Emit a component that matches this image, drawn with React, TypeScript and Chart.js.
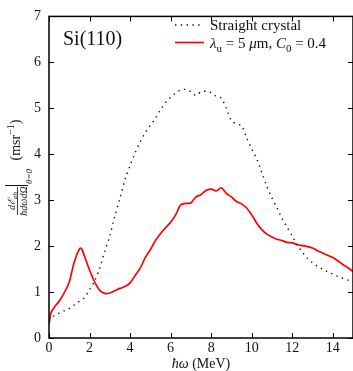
import React, { useEffect, useRef } from "react";
import { Chart, registerables } from "chart.js";

Chart.register(...registerables);

// ---- data ----
const straightX = [0, 0.25, 0.5, 0.75, 1.0, 1.25, 1.5, 1.75, 2.0, 2.25, 2.5, 2.75, 3.0, 3.25, 3.5, 3.75, 4.0, 4.25, 4.5, 4.75, 5.0, 5.25, 5.5, 5.75, 6.0, 6.25, 6.5, 6.75, 7.0, 7.25, 7.5, 7.75, 8.0, 8.25, 8.5, 8.75, 9.0, 9.25, 9.5, 9.75, 10.0, 10.25, 10.5, 10.75, 11.0, 11.25, 11.5, 11.75, 12.0, 12.25, 12.5, 12.75, 13.0, 13.25, 13.5, 13.75, 14.0, 14.25, 14.5, 14.75, 15.0];
const straightY = [0.38, 0.48, 0.54, 0.59, 0.64, 0.72, 0.8, 0.88, 1.05, 1.24, 1.52, 1.88, 2.22, 2.66, 3.04, 3.45, 3.75, 4.03, 4.27, 4.47, 4.63, 4.78, 4.97, 5.12, 5.24, 5.33, 5.4, 5.41, 5.36, 5.28, 5.36, 5.37, 5.34, 5.26, 5.22, 5.0, 4.73, 4.66, 4.62, 4.36, 4.12, 3.9, 3.6, 3.3, 3.05, 2.83, 2.6, 2.41, 2.22, 2.02, 1.87, 1.73, 1.64, 1.56, 1.5, 1.44, 1.39, 1.34, 1.3, 1.26, 1.23];

const undulatorX = [0, 0.1, 0.25, 0.5, 0.75, 1.0, 1.25, 1.5, 1.6, 1.75, 2.0, 2.25, 2.5, 2.75, 3.0, 3.25, 3.5, 3.75, 4.0, 4.25, 4.5, 4.75, 5.0, 5.25, 5.5, 5.75, 6.0, 6.25, 6.5, 6.75, 7.0, 7.25, 7.5, 7.75, 8.0, 8.25, 8.5, 8.75, 9.0, 9.25, 9.5, 9.75, 10.0, 10.25, 10.5, 10.75, 11.0, 11.25, 11.5, 11.75, 12.0, 12.25, 12.5, 12.75, 13.0, 13.25, 13.5, 13.75, 14.0, 14.25, 14.5, 14.75, 15.0];
const undulatorY = [0.3, 0.55, 0.66, 0.8, 0.98, 1.22, 1.66, 1.94, 1.95, 1.78, 1.48, 1.22, 1.04, 0.97, 0.98, 1.03, 1.08, 1.12, 1.2, 1.36, 1.52, 1.75, 1.92, 2.12, 2.27, 2.4, 2.52, 2.68, 2.9, 2.93, 2.94, 3.07, 3.12, 3.21, 3.24, 3.2, 3.27, 3.15, 3.07, 2.97, 2.92, 2.83, 2.68, 2.5, 2.36, 2.26, 2.2, 2.15, 2.12, 2.08, 2.07, 2.03, 2.01, 1.99, 1.96, 1.9, 1.85, 1.8, 1.75, 1.68, 1.6, 1.53, 1.45];

const xTickValues = [0, 2, 4, 6, 8, 10, 12, 14];
const yTickValues = [0, 1, 2, 3, 4, 5, 6, 7];
const seriesLabels = ["Straight crystal", "λu = 5 μm, C0 = 0.4"];
const panelLabel = "Si(110)";

const SERIF = '"Liberation Serif", "Times New Roman", serif';

type Part = { t: string; it?: boolean; sub?: boolean; sup?: boolean };

function drawRich(ctx: CanvasRenderingContext2D, parts: Part[], x: number, y: number, size: number, align: "left" | "center") {
  const fontFor = (p: Part) => `${p.it ? "italic " : ""}${p.sub || p.sup ? Math.round(size * 0.7) : size}px ${SERIF}`;
  let total = 0;
  for (const p of parts) {
    ctx.font = fontFor(p);
    total += ctx.measureText(p.t).width;
  }
  let cx = align === "center" ? x - total / 2 : x;
  ctx.textAlign = "left";
  ctx.textBaseline = "alphabetic";
  for (const p of parts) {
    ctx.font = fontFor(p);
    const dy = p.sub ? size * 0.28 : p.sup ? -size * 0.42 : 0;
    ctx.fillText(p.t, cx, y + dy);
    cx += ctx.measureText(p.t).width;
  }
  return total;
}

const decorPlugin = {
  id: "decor",
  afterDraw(chart: any) {
    const ctx: CanvasRenderingContext2D = chart.ctx;
    const { left, right, top, bottom } = chart.chartArea;
    const xs = chart.scales.x;
    const ys = chart.scales.y;
    ctx.save();
    ctx.strokeStyle = "#000";
    // inner ticks
    ctx.lineWidth = 1;
    const tl = 5;
    ctx.beginPath();
    for (const v of xTickValues) {
      const px = Math.round(xs.getPixelForValue(v)) + 0.5;
      ctx.moveTo(px, bottom);
      ctx.lineTo(px, bottom - tl);
      ctx.moveTo(px, top);
      ctx.lineTo(px, top + tl);
    }
    for (const v of yTickValues) {
      const py = Math.round(ys.getPixelForValue(v)) + 0.5;
      ctx.moveTo(left, py);
      ctx.lineTo(left + tl, py);
      ctx.moveTo(right, py);
      ctx.lineTo(right - tl, py);
    }
    ctx.stroke();
    // frame
    ctx.lineWidth = 1.5;
    ctx.strokeRect(left, top, right - left, bottom - top);

    ctx.fillStyle = "#111";
    // panel label
    ctx.font = `20px ${SERIF}`;
    ctx.textAlign = "left";
    ctx.textBaseline = "alphabetic";
    ctx.fillText(panelLabel, 63, 45);

    // legend
    const ds = chart.data.datasets;
    const sx0 = 175, sx1 = 204, tx = 210;
    const rows = [25, 42.5];
    ds.forEach((d: any, i: number) => {
      ctx.save();
      ctx.strokeStyle = d.borderColor;
      ctx.lineWidth = d.borderWidth;
      ctx.setLineDash(d.borderDash || []);
      ctx.beginPath();
      ctx.moveTo(sx0, rows[i]);
      ctx.lineTo(sx1, rows[i]);
      ctx.stroke();
      ctx.restore();
    });
    ctx.fillStyle = "#111";
    drawRich(ctx, [{ t: seriesLabels[0] }], tx, 30, 15, "left");
    drawRich(
      ctx,
      [
        { t: "λ", it: true },
        { t: "u", sub: true },
        { t: " = 5 " },
        { t: "μ", it: true },
        { t: "m, " },
        { t: "C", it: true },
        { t: "0", sub: true },
        { t: " = 0.4" },
      ],
      tx,
      47.5,
      15,
      "left"
    );

    // x title
    const cxTitle = (left + right) / 2;
    drawRich(ctx, [{ t: "ħω", it: true }, { t: " (MeV)" }], cxTitle, 368, 14, "center");

    // y title (rotated)
    ctx.save();
    ctx.rotate(-Math.PI / 2);
    // local (u, v) -> screen (v, -u)
    const fracC = -201;
    // numerator
    ctx.fillStyle = "#111";
    {
      const parts: Part[] = [{ t: "dℰ", it: true }, { t: "ph", it: true, sub: true }];
      drawRich(ctx, parts, fracC, 14.5, 10, "center");
    }
    ctx.strokeStyle = "#111";
    ctx.lineWidth = 0.8;
    ctx.beginPath();
    ctx.moveTo(-215, 17.5);
    ctx.lineTo(-187, 17.5);
    ctx.stroke();
    drawRich(ctx, [{ t: "ħdωdΩ", it: true }], fracC, 26.5, 10, "center");
    // evaluation bar
    ctx.lineWidth = 1;
    ctx.beginPath();
    ctx.moveTo(-185.5, 5);
    ctx.lineTo(-185.5, 28);
    ctx.stroke();
    ctx.font = `italic 9px ${SERIF}`;
    ctx.textAlign = "left";
    ctx.fillText("θ=0", -184, 32);
    // units
    drawRich(ctx, [{ t: "(msr" }, { t: "−1", sup: true }, { t: ")" }], -160.5, 20, 14, "left");
    ctx.restore();

    ctx.restore();
  },
};

export default function App() {
  const ref = useRef<HTMLCanvasElement | null>(null);
  useEffect(() => {
    document.body.style.margin = "0";
    const canvas = ref.current;
    if (!canvas) return;
    const chart = new Chart(canvas, {
      type: "line",
      data: {
        datasets: [
          {
            label: seriesLabels[0],
            data: straightX.map((x, i) => ({ x, y: straightY[i] })),
            borderColor: "#111",
            borderWidth: 1.4,
            borderDash: [1.4, 4.4],
            borderCapStyle: "butt",
            pointRadius: 0,
            tension: 0.3,
            fill: false,
          },
          {
            label: seriesLabels[1],
            data: undulatorX.map((x, i) => ({ x, y: undulatorY[i] })),
            borderColor: "#ff0000",
            borderWidth: 1.7,
            pointRadius: 0,
            tension: 0.3,
            fill: false,
          },
        ],
      },
      options: {
        responsive: false,
        animation: false,
        devicePixelRatio: 1,
        layout: { padding: { top: 13, right: 0, left: 0, bottom: 0 } },
        plugins: {
          legend: { display: false },
          tooltip: { enabled: false },
        },
        scales: {
          x: {
            type: "linear",
            min: 0,
            max: 15,
            afterBuildTicks: (s: any) => {
              s.ticks = xTickValues.map((v) => ({ value: v }));
            },
            afterFit: (s: any) => {
              s.height = 33;
            },
            grid: { display: false, drawTicks: false },
            border: { display: false },
            ticks: {
              padding: 2,
              color: "#111",
              font: { family: SERIF, size: 14 },
              maxRotation: 0,
              autoSkip: false,
            },
          },
          y: {
            type: "linear",
            min: 0,
            max: 7,
            afterBuildTicks: (s: any) => {
              s.ticks = yTickValues.map((v) => ({ value: v }));
            },
            afterFit: (s: any) => {
              s.width = 49;
            },
            grid: { display: false, drawTicks: false },
            border: { display: false },
            ticks: {
              padding: 8,
              color: "#111",
              font: { family: SERIF, size: 14 },
              autoSkip: false,
            },
          },
        },
      },
      plugins: [decorPlugin],
    });
    return () => chart.destroy();
  }, []);
  return (
    <div style={{ position: "absolute", left: 0, top: 0, width: 353, height: 371 }}>
      <canvas ref={ref} width={353} height={371} style={{ display: "block", width: 353, height: 371 }} />
    </div>
  );
}
